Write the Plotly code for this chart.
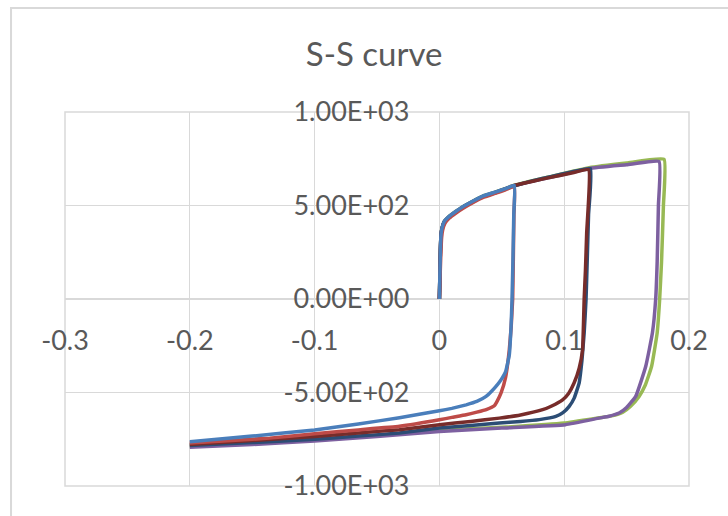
import plotly.graph_objects as go

# ---- data (strain, stress) ----
blue_x = [0, 0.0004, 0.0008, 0.0013, 0.0021, 0.004, 0.008, 0.0133, 0.0187, 0.0267, 0.0347, 0.0453, 0.053, 0.060,
          0.0596, 0.0589, 0.0582, 0.0574, 0.0560, 0.0530, 0.0505, 0.0480, 0.0450, 0.0420, 0.0374, 0.0300, 0.0214, 0.0100, 0.0,
          -0.032, -0.065, -0.1, -0.15, -0.2]
blue_y = [0, 140, 263, 345, 380, 416, 443, 469, 493, 523, 550, 573, 590, 607,
          450, 200, 0, -150, -300, -390, -420, -445, -470, -492, -521, -548, -566, -585, -598,
          -635, -668, -700, -733, -763]

red_x = [0, 0.0006, 0.0012, 0.0018, 0.0026, 0.0045, 0.008, 0.0133, 0.0187, 0.0267, 0.0347, 0.0453, 0.053, 0.060,
         0.0597, 0.0592, 0.0587, 0.0575, 0.0560, 0.0530, 0.0494, 0.0460, 0.0440, 0.0380, 0.0300, 0.0214, 0.0100, 0.0,
         -0.032, -0.065, -0.1, -0.136, -0.17, -0.2]
red_y = [0, 130, 250, 330, 368, 405, 433, 460, 484, 515, 542, 566, 584, 602,
         450, 200, 0, -150, -272, -420, -502, -550, -571, -590, -605, -619, -633, -646,
         -681, -700, -720, -744, -758, -770]

dblue_x = [0, 0.0008, 0.0013, 0.0021, 0.004, 0.008, 0.0133, 0.0187, 0.0267, 0.0347, 0.0453, 0.060, 0.075, 0.090, 0.105, 0.121,
           0.1195, 0.1185, 0.1175, 0.1160, 0.1142, 0.1120, 0.1080, 0.1040, 0.0990, 0.0933, 0.0800, 0.0650, 0.0480, 0.0250, 0.0,
           -0.032, -0.065, -0.1, -0.15, -0.2]
dblue_y = [0, 260, 342, 378, 414, 441, 467, 491, 521, 548, 571, 605, 632, 656, 678, 697,
           450, 220, 0, -181, -330, -448, -530, -574, -608, -628, -645, -655, -663, -676, -690,
           -717, -733, -750, -768, -784]

dred_x = [0, 0.0008, 0.0013, 0.0021, 0.004, 0.008, 0.0133, 0.0187, 0.0267, 0.0347, 0.0453, 0.060, 0.075, 0.088, 0.105, 0.1195,
          0.1180, 0.1170, 0.1160, 0.1147, 0.1120, 0.1080, 0.1035, 0.0987, 0.0900, 0.0827, 0.0650, 0.0480, 0.0250, 0.0,
          -0.032, -0.065, -0.1, -0.15, -0.2]
dred_y = [0, 258, 340, 376, 412, 439, 465, 489, 519, 546, 569, 607, 630, 649, 672, 692,
          350, 150, 0, -272, -370, -448, -505, -539, -572, -592, -620, -637, -655, -672,
          -699, -716, -735, -757, -778]

green_x = [0, 0.0008, 0.0013, 0.0021, 0.004, 0.008, 0.0133, 0.0187, 0.0267, 0.0347, 0.0453, 0.060, 0.090, 0.120, 0.150, 0.180,
           0.1795, 0.1780, 0.1765, 0.1745, 0.1700, 0.1650, 0.1600, 0.1530, 0.1470, 0.1380, 0.1280, 0.100, 0.050, 0.0,
           -0.05, -0.1, -0.15, -0.2]
green_y = [0, 262, 344, 380, 416, 443, 469, 493, 523, 550, 573, 608, 656, 702, 727, 747,
           500, 200, 0, -181, -361, -460, -521, -575, -605, -625, -635, -663, -686, -703,
           -730, -755, -774, -789]

purple_x = [0, 0.0008, 0.0013, 0.0021, 0.004, 0.008, 0.0133, 0.0187, 0.0267, 0.0347, 0.0453, 0.060, 0.090, 0.120, 0.150, 0.176,
            0.1755, 0.1745, 0.1733, 0.1707, 0.1653, 0.1573, 0.1500, 0.1440, 0.1360, 0.1280, 0.101, 0.050, 0.0,
            -0.05, -0.1, -0.15, -0.2]
purple_y = [0, 260, 342, 378, 414, 441, 467, 491, 521, 548, 571, 606, 652, 698, 718, 735,
            500, 200, 0, -181, -361, -521, -580, -610, -627, -637, -672, -690, -708,
            -735, -760, -778, -793]

x_ticks = [-0.3, -0.2, -0.1, 0, 0.1, 0.2]
x_tick_text = ["-0.3", "-0.2", "-0.1", "0", "0.1", "0.2"]
y_ticks = [-1000, -500, 0, 500, 1000]
y_tick_text = ["-1.00E+03", "-5.00E+02", "0.00E+00", "5.00E+02", "1.00E+03"]

series = [
    (green_x, green_y, "#98B954"),
    (purple_x, purple_y, "#7D60A0"),
    (dblue_x, dblue_y, "#2C4D75"),
    (dred_x, dred_y, "#772C2A"),
    (red_x, red_y, "#BE4B48"),
    (blue_x, blue_y, "#4A7EBB"),
]

fig = go.Figure()
for xs, ys, col in series:
    fig.add_trace(go.Scatter(x=xs, y=ys, mode="lines",
                             line=dict(color=col, width=3.5, shape="spline", smoothing=0.35),
                             hoverinfo="skip", showlegend=False))

FONT = "Lato, Carlito, 'Open Sans', sans-serif"
TXT = "#595959"
GRID = "#D9D9D9"

fig.update_layout(
    width=728, height=516,
    margin=dict(l=65, r=39, t=112, b=30, autoexpand=False),
    paper_bgcolor="white", plot_bgcolor="white",
    showlegend=False,
    title=dict(text="S-S curve", x=0.514, xref="container", xanchor="center",
               y=1 - 54 / 516, yref="container", yanchor="middle",
               font=dict(family=FONT, size=33, color=TXT)),
    xaxis=dict(range=[-0.3, 0.2], tickvals=x_ticks, ticktext=x_tick_text,
               showgrid=True, gridcolor=GRID, gridwidth=1.3,
               zeroline=True, zerolinecolor=GRID, zerolinewidth=1.3,
               showline=False, ticks="", anchor="free", position=0.5,
               automargin=False, ticklabelstandoff=23,
               tickfont=dict(family=FONT, size=27, color=TXT)),
    yaxis=dict(range=[-1000, 1000], tickvals=y_ticks, ticktext=y_tick_text,
               showgrid=True, gridcolor=GRID, gridwidth=1.3,
               zeroline=True, zerolinecolor=GRID, zerolinewidth=1.3,
               showline=False, ticks="", anchor="free", position=0.6,
               automargin=False, ticklabelstandoff=30,
               tickfont=dict(family=FONT, size=27, color=TXT)),
    shapes=[
        dict(type="rect", xref="paper", yref="paper",
             x0=-0.0865, x1=1.10, y0=-0.12, y1=1.278,
             line=dict(color=GRID, width=2), layer="below"),
        dict(type="rect", xref="paper", yref="paper",
             x0=0, x1=1, y0=0, y1=1,
             line=dict(color=GRID, width=1.5), layer="below"),
    ],
)

fig.write_html("out.html",
               config={"displayModeBar": False, "staticPlot": True},
               post_script="document.body.style.margin='0';document.body.style.overflow='hidden';")
